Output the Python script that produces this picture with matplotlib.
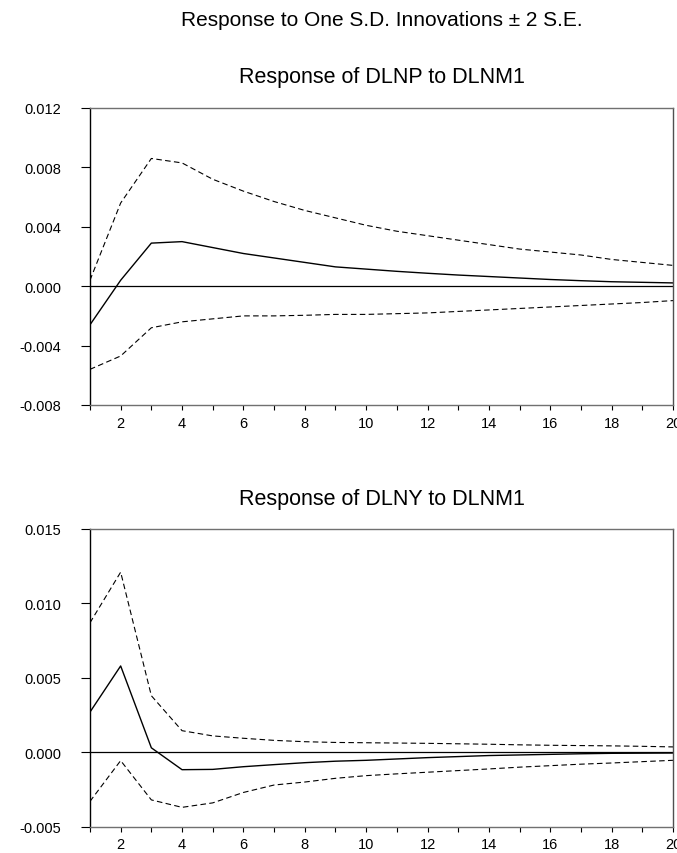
import matplotlib
matplotlib.use("Agg")
import matplotlib.pyplot as plt
import numpy as np

plt.rcParams['font.family'] = ['Liberation Sans', 'DejaVu Sans']

periods = list(range(1, 21))

# Response of DLNP to DLNM1
dlnp_resp = [-0.0026, 0.0004, 0.0029, 0.0030, 0.0026, 0.0022, 0.0019, 0.0016, 0.0013, 0.00115,
             0.0010, 0.00087, 0.00075, 0.00065, 0.00055, 0.00045, 0.00037, 0.0003, 0.00026, 0.00022]
dlnp_upper = [0.0004, 0.0056, 0.0086, 0.0083, 0.0072, 0.0064, 0.0057, 0.0051, 0.0046, 0.0041,
              0.0037, 0.0034, 0.0031, 0.0028, 0.0025, 0.0023, 0.0021, 0.0018, 0.0016, 0.0014]
dlnp_lower = [-0.0056, -0.0047, -0.0028, -0.0024, -0.0022, -0.0020, -0.0020, -0.00196, -0.0019, -0.0019,
              -0.00185, -0.0018, -0.0017, -0.0016, -0.0015, -0.0014, -0.0013, -0.0012, -0.0011, -0.00097]

# Response of DLNY to DLNM1
dlny_resp = [0.0027, 0.0058, 0.0003, -0.00117, -0.00115, -0.00097, -0.00083, -0.0007, -0.0006, -0.00054,
             -0.00045, -0.00036, -0.00029, -0.00022, -0.00018, -0.00014, -0.0001, -0.00007, -0.00006, -0.00005]
dlny_upper = [0.0087, 0.0121, 0.0038, 0.00145, 0.0011, 0.00094, 0.0008, 0.00071, 0.00066, 0.00064,
              0.00062, 0.0006, 0.00057, 0.00054, 0.0005, 0.00047, 0.00045, 0.00043, 0.0004, 0.00036]
dlny_lower = [-0.0033, -0.00056, -0.0032, -0.0037, -0.0034, -0.0027, -0.0022, -0.002, -0.00175, -0.00157,
              -0.00145, -0.00134, -0.00123, -0.00112, -0.001, -0.0009, -0.0008, -0.00072, -0.00063, -0.00054]

panels = [
    ("Response of DLNP to DLNM1", dlnp_resp, dlnp_upper, dlnp_lower,
     [-0.008, -0.004, 0.000, 0.004, 0.008, 0.012]),
    ("Response of DLNY to DLNM1", dlny_resp, dlny_upper, dlny_lower,
     [-0.005, 0.000, 0.005, 0.010, 0.015]),
]

fig = plt.figure(figsize=(6.77, 8.54), dpi=100, facecolor='white')
fig.text(0.5635, 1 - 21 / 854, "Response to One S.D. Innovations \u00b1 2 S.E.",
         ha='center', va='center', fontsize=15)

rects = [[0.1329, 0.5246, 0.8612, 0.3478], [0.1329, 0.0308, 0.8612, 0.3486]]
title_y = [1 - 78 / 854, 1 - 500 / 854]

for (title, resp, up, lo, yt), rect, ty in zip(panels, rects, title_y):
    ax = fig.add_axes(rect)
    ax.axhline(0, color='black', lw=0.9)
    ax.plot(periods, resp, color='black', lw=1.0)
    ax.plot(periods, up, color='black', lw=0.8, linestyle=(0, (5, 3)))
    ax.plot(periods, lo, color='black', lw=0.8, linestyle=(0, (5, 3)))
    ax.set_xlim(1, 20)
    ax.set_ylim(yt[0], yt[-1])
    ax.set_yticks(yt)
    ax.set_yticklabels(["%.3f" % v for v in yt])
    ax.set_xticks(periods)
    ax.set_xticklabels([str(p) if p % 2 == 0 else "" for p in periods])
    ax.tick_params(axis='y', direction='out', length=6.5, width=0.8, pad=14, labelsize=10.5)
    ax.tick_params(axis='x', direction='out', length=3.6, width=0.8, pad=4, labelsize=10.5)
    ax.spines['left'].set_color('black')
    ax.spines['bottom'].set_color('#707070')
    ax.spines['top'].set_color('#707070')
    ax.spines['right'].set_color('#505050')
    for s in ax.spines.values():
        s.set_linewidth(1.0)
    fig.text(0.5635, ty, title, ha='center', va='center', fontsize=15.5)

fig.savefig("out.png", dpi=100, facecolor='white')
